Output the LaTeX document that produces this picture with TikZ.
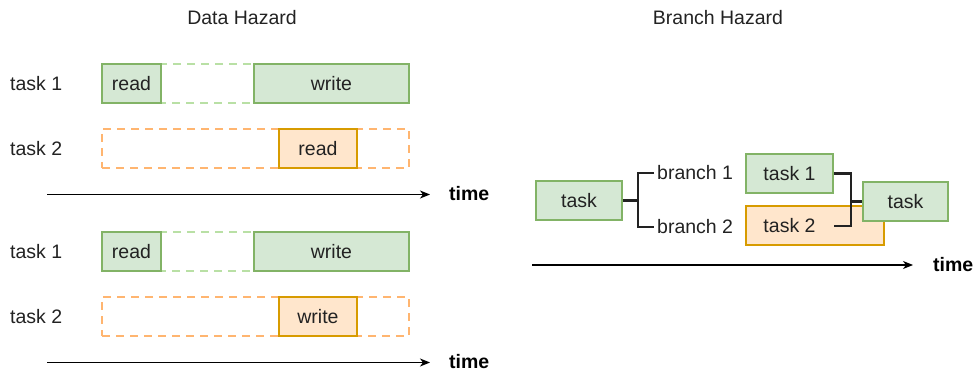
\documentclass[tikz,border=0pt]{standalone}
\usepackage{color}
\usepackage{fontspec}
\setmainfont{Liberation Sans}
\usetikzlibrary{positioning, arrows.meta}

\definecolor{okfill}{HTML}{D5E8D4}
\definecolor{okline}{HTML}{82B366}
\definecolor{okdash}{HTML}{B9E0A5}
\definecolor{hitfill}{HTML}{FFE6CC}
\definecolor{hitline}{HTML}{D79B00}
\definecolor{hitdash}{HTML}{FFB570}
\definecolor{ink}{HTML}{222222}

\begin{document}
\begin{tikzpicture}[>={Stealth[length=10pt, width=8pt, inset=3pt]}, x=1pt, y=-1pt, font=\fontsize{19.5}{22}\selectfont, text=ink]
    \tikzstyle{format} = [rectangle, minimum height=39pt, inner sep=0pt, line width=1.8pt]
    \tikzstyle{okbox} = [format, draw=okline, fill=okfill]
    \tikzstyle{hitbox} = [format, draw=hitline, fill=hitfill]
    \tikzstyle{okspan} = [format, draw=okdash, dash pattern=on 8pt off 6pt]
    \tikzstyle{hitspan} = [format, draw=hitdash, dash pattern=on 8pt off 6pt]
    \tikzstyle{lbl} = [anchor=west, inner sep=3pt]
    \tikzstyle{axis} = [->, line width=1.3pt, black]
    \tikzstyle{wire} = [line width=2.1pt, ink]
    \tikzstyle{tlbl} = [anchor=west, inner sep=0pt, font=\fontsize{19.5}{22}\selectfont\bfseries, text=black]

    \useasboundingbox (0,0) rectangle (974,371);

	\node (dtitle) at (242,18) {Data Hazard};
	\node (btitle) at (718,18) {Branch Hazard};

	% data hazard: read/write and write/write
	\foreach \dy/\op/\k in {0/read/a, 168/write/b} {
		\begin{scope}[yshift=-\dy pt]
			\path
				node[lbl] (t1\k) at (7,84) {task 1}
				node[lbl] (t2\k) at (7,149) {task 2}
				node[okspan, minimum width=307pt] (wait\k) at (255.5,83.5) {}
				node[okbox, minimum width=59pt] (rd\k) at (131.5,83.5) {read}
				node[okbox, minimum width=155pt] (wr\k) at (331.5,83.5) {write}
				node[hitspan, minimum width=307pt] (slot\k) at (255.5,148.5) {}
				node[hitbox, minimum width=78pt] (op\k) at (318,148.5) {\op}
				coordinate (s\k) at (47,194.5)
				coordinate (e\k) at (430,194.5)
				node[tlbl] (time\k) at (449,194) {time};
			\draw[axis] (s\k) -- (e\k);
		\end{scope}
	}

	% branch hazard
	\path
		node[okbox, minimum width=86pt] (src) at (579,200.5) {task}
		node[lbl] (b1) at (654,173) {branch 1}
		node[lbl] (b2) at (654,227) {branch 2}
		node[okbox, minimum width=87pt] (p1) at (789.5,173.5) {task 1}
		node[hitbox, minimum width=138pt] (p2box) at (815,225.5) {}
		node[format, minimum width=87pt] (p2) at (789.5,226) {task 2};
	\draw[wire] (src.east) -- ++(15,0) coordinate (fork);
	\draw[wire] (b1.west) -| (fork) |- (b2.west);
	\draw[wire] (p1.east) -- ++(17,0) coordinate (join) |- (p2.east);
	\node[okbox, minimum width=85pt] (dst) at (905.5,201.5) {task};
	\draw[wire] (join |- dst.west) -- (dst.west);

	\path
		coordinate (sc) at (532,265)
		coordinate (ec) at (913,265)
		node[tlbl] (timec) at (933,264.5) {time};
	\draw[axis] (sc) -- (ec);
\end{tikzpicture}
\end{document}
